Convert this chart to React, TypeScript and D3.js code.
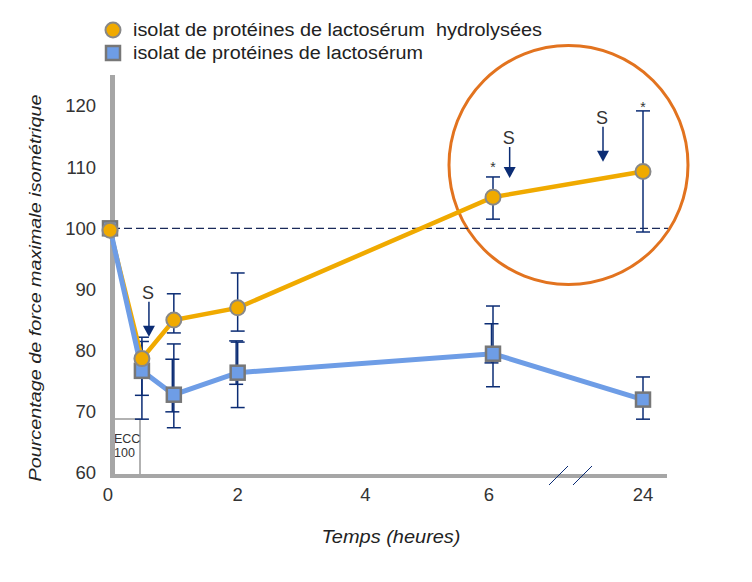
import React from "react";
import * as d3 from "d3";

const times = [0, 0.5, 1, 2, 6, 24];
const hydroValues = [99.7, 78.7, 85.0, 87.0, 105.1, 109.3];
const hydroHi = [null, 82.2, 89.3, 92.7, 108.4, 119.2];
const hydroLo = [null, 72.7, 82.9, 83.2, 101.5, 99.4];
const wpiValues = [100, 76.7, 72.8, 76.4, 79.5, 72.0];
const wpiHi = [null, 81.5, 81.1, 81.4, 87.3, 75.7];
const wpiLo = [null, 68.8, 67.4, 70.7, 74.1, 68.8];
const wpiInnerHi = [null, null, 78.6, 81.6, 84.4, null];
const wpiInnerLo = [null, null, 70.0, 74.5, 78.0, null];
const yTicks = [60, 70, 80, 90, 100, 110, 120];
const xTicks = [0, 2, 4, 6, 24];
const suppTimes = [0.61, 8.0, 19.2];
const suppLevels = [88.0, 113.3, 116.6];
const suppLineLen = [24, 20, 24];
const starTimes = [6, 24];
const starLevels = [109.2, 119.1];
const legendLabels = [
  "isolat de protéines de lactosérum\u00a0 hydrolysées",
  "isolat de protéines de lactosérum",
];

const ORANGE = "#F0AA00";
const BLUE = "#6E9DE6";
const NAVY = "#0B2C74";
const GRAY = "#A6A6A6";

export default function App() {
  const x = d3.scaleLinear().domain([0, 6, 24]).range([110, 493, 643]);
  const y = d3.scaleLinear().domain([60, 120]).range([473, 106]);
  const line = d3
    .line<number>()
    .x((_, i) => x(times[i]))
    .y((v) => y(v));
  const font = "'Liberation Sans', Arial, sans-serif";
  const cap = 7;

  const errBar = (t: number, hi: number | null, lo: number | null, key: string, off = 0) => {
    if (hi == null || lo == null) return null;
    const cx = x(t) + off;
    return (
      <g key={key} stroke={NAVY} strokeWidth={1.5}>
        <line x1={cx} x2={cx} y1={y(hi)} y2={y(lo)} />
        <line x1={cx - cap} x2={cx + cap} y1={y(hi)} y2={y(hi)} />
        <line x1={cx - cap} x2={cx + cap} y1={y(lo)} y2={y(lo)} />
      </g>
    );
  };

  return (
    <svg width={752} height={582} style={{ position: "absolute", left: 0, top: 0 }} fontFamily={font}>
      <rect width={752} height={582} fill="#fff" />
      {/* legend */}
      <circle cx={113} cy={30} r={7.5} fill={ORANGE} stroke="#888" strokeWidth={2} />
      <rect x={106} y={46} width={14} height={14} fill={BLUE} stroke="#777" strokeWidth={2.5} />
      <text x={133} y={36} fontSize={18} fill="#222" textLength={409} lengthAdjust="spacingAndGlyphs">{legendLabels[0]}</text>
      <text x={133} y={59} fontSize={18} fill="#222" textLength={290} lengthAdjust="spacingAndGlyphs">{legendLabels[1]}</text>

      {/* highlight circle */}
      <circle cx={568.5} cy={165} r={119.5} fill="none" stroke="#E2731F" strokeWidth={3} />

      {/* dashed reference */}
      <line x1={112} x2={668} y1={y(100)} y2={y(100)} stroke="#1A2A5A" strokeWidth={1.2} strokeDasharray="8,4" />

      {/* ECC box */}
      <rect x={112} y={419} width={28} height={57} fill="#fff" stroke="#999" strokeWidth={1.5} />
      <text x={114} y={443} fontSize={12.5} fill="#333">ECC</text>
      <text x={114} y={457} fontSize={12.5} fill="#333">100</text>

      {/* axes */}
      <line x1={112.5} x2={112.5} y1={75} y2={478} stroke={GRAY} strokeWidth={5} />
      <line x1={110} x2={667} y1={476} y2={476} stroke={GRAY} strokeWidth={4} />
      {[0, 1].map((i) => (
        <line key={i} x1={549 + i * 24} x2={568 + i * 24} y1={485} y2={466} stroke={NAVY} strokeWidth={1} />
      ))}

      {yTicks.map((t) => (
        <text key={t} x={96} y={y(t)} dy="0.35em" textAnchor="end" fontSize={18.5} fill="#333">{t}</text>
      ))}
      {xTicks.map((t) => (
        <text key={t} x={t === 0 ? 108 : t === 6 ? 489 : x(t)} y={495} dy="0.35em" textAnchor="middle" fontSize={18.5} fill="#333">{t}</text>
      ))}

      <text transform="translate(41,288) rotate(-90)" textAnchor="middle" fontSize={17} fontStyle="italic" fill="#222" textLength={387} lengthAdjust="spacingAndGlyphs">
        Pourcentage de force maximale isométrique
      </text>
      <text x={391} y={543} textAnchor="middle" fontSize={18} fontStyle="italic" fill="#222" textLength={139} lengthAdjust="spacingAndGlyphs">Temps (heures)</text>

      {/* supplement arrows */}
      {suppTimes.map((t, i) => {
        const cx = x(t);
        const top = y(suppLevels[i]);
        const len = suppLineLen[i];
        return (
          <g key={i}>
            <text x={cx - 1} y={top - 3} textAnchor="middle" fontSize={18} fill="#333">S</text>
            <line x1={cx} x2={cx} y1={top} y2={top + len + 1} stroke={NAVY} strokeWidth={1.5} />
            <path d={`M${cx - 6},${top + len} L${cx + 6},${top + len} L${cx},${top + len + 11} Z`} fill={NAVY} />
          </g>
        );
      })}
      {starTimes.map((t, i) => (
        <text key={i} x={x(t)} y={y(starLevels[i])} textAnchor="middle" fontSize={14} fill="#333">*</text>
      ))}

      {/* error bars */}
      {times.map((t, i) => errBar(t, wpiHi[i], wpiLo[i], "wo" + i))}
      {times.map((t, i) => errBar(t, wpiInnerHi[i], wpiInnerLo[i], "wi" + i, -1.5))}
      {times.map((t, i) => errBar(t, hydroHi[i], hydroLo[i], "h" + i))}

      {/* lines */}
      <path d={line(hydroValues) || ""} fill="none" stroke={ORANGE} strokeWidth={4.5} />
      <path d={line(wpiValues) || ""} fill="none" stroke={BLUE} strokeWidth={5} />

      {/* markers */}
      {wpiValues.map((v, i) => (
        <rect key={i} x={x(times[i]) - 7} y={y(v) - 7} width={14} height={14} fill={BLUE} stroke="#777" strokeWidth={2.5} />
      ))}
      {hydroValues.map((v, i) => (
        <circle key={i} cx={x(times[i])} cy={y(v)} r={7.5} fill={ORANGE} stroke="#888" strokeWidth={2} />
      ))}
    </svg>
  );
}
